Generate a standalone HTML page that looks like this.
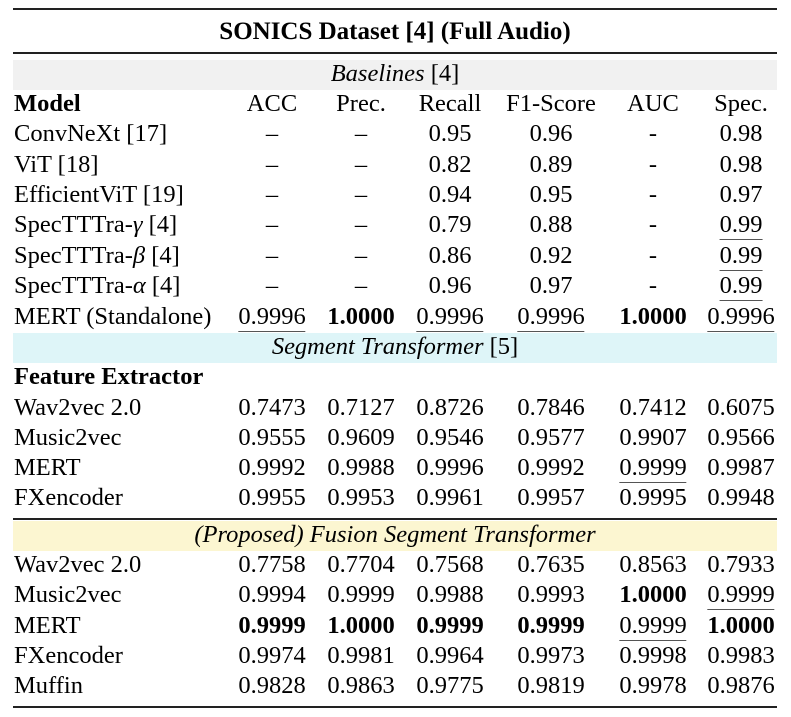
<!DOCTYPE html>
<html><head><meta charset="utf-8">
<style>
body{margin:0;background:#fff;width:791px;height:717px;position:relative;overflow:hidden;font-family:"Liberation Serif","Times New Roman",serif;color:#000;font-size:24.5px}
.rule{position:absolute;left:13px;width:764px;background:#222}
.band{position:absolute;left:13px;width:764px;height:30px}
.c{position:absolute;transform:translateX(-50%);white-space:nowrap;line-height:24px}
.l{position:absolute;left:14px;white-space:nowrap;line-height:24px}
.u{border-bottom:1.6px solid #555;padding-bottom:1px}
b{font-weight:bold}
</style></head><body>
<div class="rule" style="top:8px;height:2px"></div>
<div class="c" style="left:395px;top:20px;font-weight:bold;font-size:25px">SONICS Dataset [4] (Full Audio)</div>
<div class="rule" style="top:52px;height:1.5px"></div>
<div class="band" style="top:60px;background:#f1f1f1"></div>
<div class="c" style="left:395px;top:62px"><i>Baselines</i> [4]</div>
<div class="band" style="top:333px;background:#def5f8"></div>
<div class="c" style="left:395px;top:335px"><i>Segment Transformer</i> [5]</div>
<div class="rule" style="top:518px;height:2px"></div>
<div class="band" style="top:521px;background:#fcf6d1"></div>
<div class="c" style="left:395px;top:523px"><i>(Proposed) Fusion Segment Transformer</i></div>
<div class="rule" style="top:706px;height:2px"></div>
<div id="t"></div>
<script>
const colX=[272,361,450,551,653,741];
const rows=[
 [92,"<b>Model</b>",["ACC","Prec.","Recall","F1-Score","AUC","Spec."]],
 [122,"ConvNeXt [17]",["–","–","0.95","0.96","-","0.98"]],
 [153,"ViT [18]",["–","–","0.82","0.89","-","0.98"]],
 [183,"EfficientViT [19]",["–","–","0.94","0.95","-","0.97"]],
 [213,"SpecTTTra-<i>γ</i> [4]",["–","–","0.79","0.88","-","_0.99"]],
 [244,"SpecTTTra-<i>β</i> [4]",["–","–","0.86","0.92","-","_0.99"]],
 [274,"SpecTTTra-<i>α</i> [4]",["–","–","0.96","0.97","-","_0.99"]],
 [305,"MERT (Standalone)",["_0.9996","*1.0000","_0.9996","_0.9996","*1.0000","_0.9996"]],
 [365,"<b>Feature Extractor</b>",[]],
 [396,"Wav2vec 2.0",["0.7473","0.7127","0.8726","0.7846","0.7412","0.6075"]],
 [426,"Music2vec",["0.9555","0.9609","0.9546","0.9577","0.9907","0.9566"]],
 [456,"MERT",["0.9992","0.9988","0.9996","0.9992","_0.9999","0.9987"]],
 [486,"FXencoder",["0.9955","0.9953","0.9961","0.9957","0.9995","0.9948"]],
 [553,"Wav2vec 2.0",["0.7758","0.7704","0.7568","0.7635","0.8563","0.7933"]],
 [583,"Music2vec",["0.9994","0.9999","0.9988","0.9993","*1.0000","_0.9999"]],
 [614,"MERT",["*0.9999","*1.0000","*0.9999","*0.9999","_0.9999","*1.0000"]],
 [644,"FXencoder",["0.9974","0.9981","0.9964","0.9973","0.9998","0.9983"]],
 [674,"Muffin",["0.9828","0.9863","0.9775","0.9819","0.9978","0.9876"]]
];
const t=document.getElementById('t');
rows.forEach((r,i)=>{
 const l=document.createElement('div');l.className='l';l.style.top=r[0]+'px';l.innerHTML=r[1];
 
 
 t.appendChild(l);
 r[2].forEach((v,j)=>{
  const d=document.createElement('div');d.className='c';d.style.top=r[0]+'px';d.style.left=colX[j]+'px';
  
  
  if(v[0]=='_')d.innerHTML='<span class="u">'+v.slice(1)+'</span>';
  else if(v[0]=='*')d.innerHTML='<b>'+v.slice(1)+'</b>';
  else d.textContent=v;
  t.appendChild(d);
 });
});
</script>
</body></html>
